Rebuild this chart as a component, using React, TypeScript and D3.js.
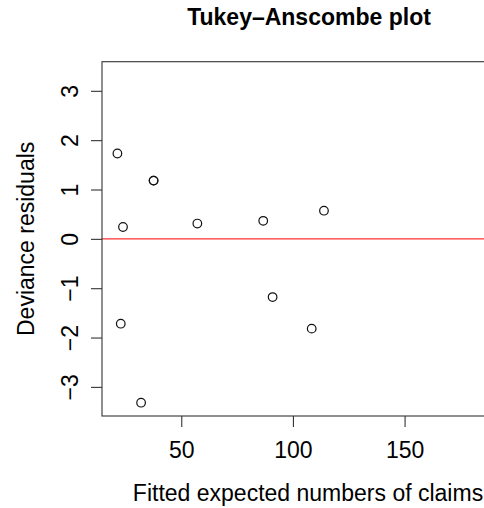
import React, { useEffect, useRef } from 'react';
import * as d3 from 'd3';

// fitted values and deviance residuals
const fitted = [21.4, 37.6, 37.6, 23.9, 57.2, 22.9, 32.0, 86.7, 113.9, 90.9, 108.4];
const residuals = [1.73, 1.18, 1.18, 0.24, 0.31, -1.72, -3.32, 0.365, 0.57, -1.18, -1.82];
const xTicks = [50, 100, 150];
const yTicks = [-3, -2, -1, 0, 1, 2, 3];
const xDomain = [14.5, 199];
const yDomain = [-3.59, 3.59];

const App = () => {
    const ref = useRef<SVGSVGElement>(null);

    useEffect(() => {
        const width = 484;
        const height = 508;
        const margin = { top: 61.7, right: -30, bottom: 92, left: 102 };
        const font = '"Liberation Sans", Arial, Helvetica, sans-serif';
        const fs = 23;

        const x = d3.scaleLinear()
            .domain(xDomain)
            .range([margin.left, width - margin.right]);

        const y = d3.scaleLinear()
            .domain(yDomain)
            .range([height - margin.bottom, margin.top]);

        const svg = d3.select(ref.current)
            .attr('width', width)
            .attr('height', height);
        svg.selectAll('*').remove();

        svg.append('rect')
            .attr('width', width)
            .attr('height', height)
            .attr('fill', 'white');

        // zero line
        svg.append('line')
            .attr('x1', x(xDomain[0]))
            .attr('x2', x(xDomain[1]))
            .attr('y1', y(0))
            .attr('y2', y(0))
            .attr('stroke', '#ff3030')
            .attr('stroke-width', 1.2);

        // points
        svg.append('g')
            .selectAll('circle')
            .data(fitted.map((f, i) => ({ f, r: residuals[i] })))
            .join('circle')
            .attr('cx', d => x(d.f))
            .attr('cy', d => y(d.r))
            .attr('r', 4.3)
            .attr('fill', 'none')
            .attr('stroke', '#111')
            .attr('stroke-width', 1.2);

        // box
        svg.append('rect')
            .attr('x', x(xDomain[0]))
            .attr('y', y(yDomain[1]))
            .attr('width', x(xDomain[1]) - x(xDomain[0]))
            .attr('height', y(yDomain[0]) - y(yDomain[1]))
            .attr('fill', 'none')
            .attr('stroke', '#333')
            .attr('stroke-width', 1.1);

        const xAxis = svg.append('g')
            .attr('transform', `translate(0,${height - margin.bottom})`)
            .call(d3.axisBottom(x).tickValues(xTicks).tickSize(11).tickPadding(14).tickSizeOuter(0));
        xAxis.select('.domain').remove();

        const yAxis = svg.append('g')
            .attr('transform', `translate(${margin.left},0)`)
            .call(d3.axisLeft(y).tickValues(yTicks).tickSize(11).tickSizeOuter(0)
                .tickFormat(d => d3.format('d')(d as number).replace('-', '\u2212')));
        yAxis.select('.domain').remove();

        svg.selectAll('.tick line').attr('stroke', '#333').attr('stroke-width', 1.1);
        svg.selectAll('.tick text')
            .attr('font-family', font)
            .attr('font-size', fs)
            .attr('fill', '#000');

        yAxis.selectAll('.tick text')
            .attr('x', null)
            .attr('dy', null)
            .attr('text-anchor', 'middle')
            .attr('transform', 'translate(-24.5,0) rotate(-90)');

        xAxis.selectAll('.tick text').attr('dy', null).attr('y', 42);

        const cx = (x(xDomain[0]) + x(xDomain[1])) / 2;

        svg.append('text')
            .attr('x', cx + 1)
            .attr('y', 25)
            .attr('text-anchor', 'middle')
            .attr('font-family', font)
            .attr('font-size', fs)
            .attr('font-weight', 'bold')
            .text('Tukey\u2013Anscombe plot');

        svg.append('text')
            .attr('x', cx)
            .attr('y', 501)
            .attr('text-anchor', 'middle')
            .attr('font-family', font)
            .attr('font-size', fs)
            .text('Fitted expected numbers of claims');

        svg.append('text')
            .attr('transform', `translate(33.5,${(y(yDomain[0]) + y(yDomain[1])) / 2}) rotate(-90)`)
            .attr('text-anchor', 'middle')
            .attr('font-family', font)
            .attr('font-size', fs)
            .text('Deviance residuals');
    }, []);

    return (
        <svg ref={ref} style={{ position: 'absolute', left: 0, top: 0 }} />
    );
};

export default App;
